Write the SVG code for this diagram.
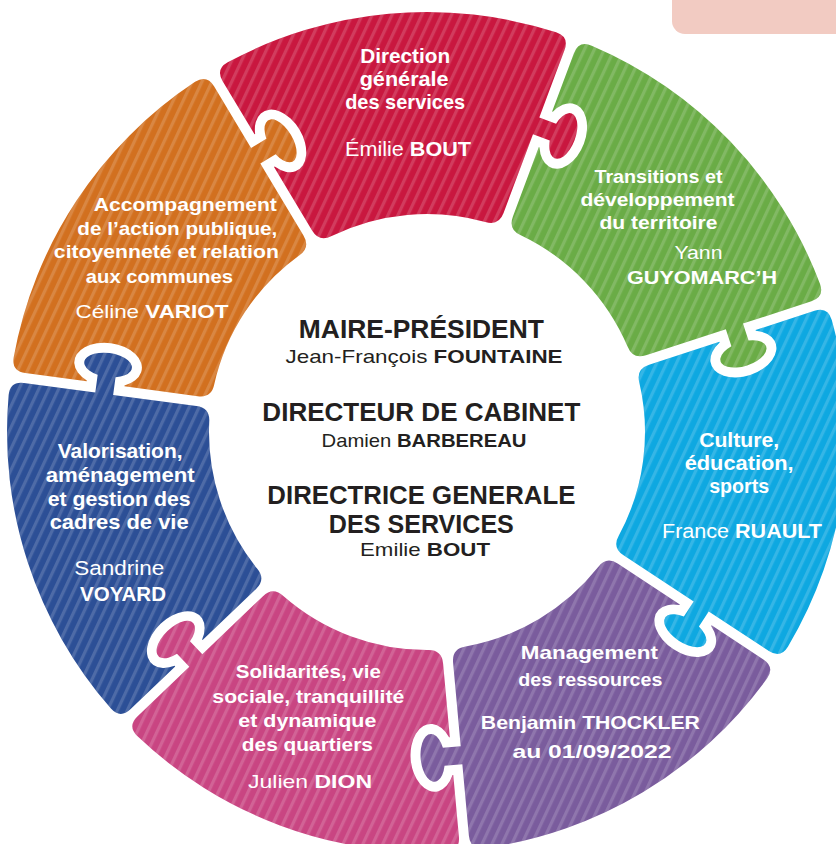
<svg xmlns="http://www.w3.org/2000/svg" width="836" height="844" viewBox="0 0 836 844">
<style>
.t{font-family:"Liberation Sans",Arial,sans-serif;fill:#fff;text-anchor:middle;font-weight:700}
.l{font-weight:400}
.b{font-weight:700}
.c{font-family:"Liberation Sans",Arial,sans-serif;fill:#231f20;text-anchor:middle;font-weight:400;font-size:19px}
.h{font-weight:700;font-size:26px}
.st{fill:url(#stripes)}
</style>
<defs>
<path id="piece" d="M -171.65 -367.97 Q -177.72 -380.58 -164.90 -386.27 A 420 420 0 0 1 164.90 -386.27 Q 177.72 -380.58 171.65 -367.97 L 140.41 -303.09 L 156.52 -295.34 A 12 24 25.714 1 1 148.71 -279.12 L 132.60 -286.88 L 96.15 -211.19 Q 90.08 -198.58 77.13 -203.90 A 218 218 0 0 0 -77.13 -203.90 Q -90.08 -198.58 -96.15 -211.19 L -128.26 -277.87 L -127.59 -278.19 A 22 34 -25.714 1 0 -144.07 -312.43 L -144.75 -312.10 Z"/>
<pattern id="stripes" patternUnits="userSpaceOnUse" width="9" height="10" patternTransform="rotate(25)">
<rect width="3.2" height="10" fill="#fff" fill-opacity="0.16"/>
</pattern>
<clipPath id="c-red"><use href="#piece" transform="translate(427 432) rotate(-5.21)"/></clipPath>
<clipPath id="c-green"><use href="#piece" transform="translate(427 432) rotate(46.21)"/></clipPath>
<clipPath id="c-cyan"><use href="#piece" transform="translate(427 432) rotate(97.64)"/></clipPath>
<clipPath id="c-purple"><use href="#piece" transform="translate(427 432) rotate(149.07)"/></clipPath>
<clipPath id="c-pink"><use href="#piece" transform="translate(427 432) rotate(200.5)"/></clipPath>
<clipPath id="c-blue"><use href="#piece" transform="translate(427 432) rotate(251.93)"/></clipPath>
<clipPath id="c-orange"><use href="#piece" transform="translate(427 432) rotate(303.36)"/></clipPath>
</defs>
<rect width="836" height="844" fill="#fff"/>
<rect x="672" y="-20" width="190" height="54" rx="13" fill="#f2cbc2"/>

<g id="dgs">
<use href="#piece" transform="translate(427 432) rotate(-5.21)" fill="#c9173f"/>
<rect class="st" width="836" height="844" clip-path="url(#c-red)"/>
<text class="t" font-size="20.5">
<tspan x="408" y="63" textLength="90" lengthAdjust="spacingAndGlyphs">Direction</tspan>
<tspan x="407" y="86" textLength="89" lengthAdjust="spacingAndGlyphs">générale</tspan>
<tspan x="408" y="109" textLength="120" lengthAdjust="spacingAndGlyphs">des services</tspan>
<tspan x="408" y="156" textLength="126" lengthAdjust="spacingAndGlyphs"><tspan class="l">Émilie </tspan>BOUT</tspan>
</text>
</g>

<g id="transitions">
<use href="#piece" transform="translate(427 432) rotate(46.21)" fill="#6aac46"/>
<rect class="st" width="836" height="844" clip-path="url(#c-green)"/>
<text class="t" font-size="18">
<tspan x="661" y="183" textLength="128" lengthAdjust="spacingAndGlyphs">Transitions et</tspan>
<tspan x="660" y="206" textLength="154" lengthAdjust="spacingAndGlyphs">développement</tspan>
<tspan x="661" y="229" textLength="118" lengthAdjust="spacingAndGlyphs">du territoire</tspan>
<tspan class="l" x="701" y="259" textLength="48" lengthAdjust="spacingAndGlyphs">Yann</tspan>
<tspan x="702" y="284" textLength="150" lengthAdjust="spacingAndGlyphs">GUYOMARC’H</tspan>
</text>
</g>

<g id="culture">
<use href="#piece" transform="translate(427 432) rotate(97.64)" fill="#0ea8e1"/>
<rect class="st" width="836" height="844" clip-path="url(#c-cyan)"/>
<text class="t" font-size="20.5">
<tspan x="742" y="447" textLength="80" lengthAdjust="spacingAndGlyphs">Culture,</tspan>
<tspan x="742" y="470" textLength="109" lengthAdjust="spacingAndGlyphs">éducation,</tspan>
<tspan x="742" y="493" textLength="60" lengthAdjust="spacingAndGlyphs">sports</tspan>
<tspan x="742" y="538" textLength="160" lengthAdjust="spacingAndGlyphs"><tspan class="l">France </tspan>RUAULT</tspan>
</text>
</g>

<g id="management">
<use href="#piece" transform="translate(427 432) rotate(149.07)" fill="#7a5c9d"/>
<rect class="st" width="836" height="844" clip-path="url(#c-purple)"/>
<text class="t" font-size="19">
<tspan x="592" y="659" textLength="137" lengthAdjust="spacingAndGlyphs">Management</tspan>
<tspan x="593" y="686" textLength="144" lengthAdjust="spacingAndGlyphs">des ressources</tspan>
<tspan x="593" y="729" textLength="219" lengthAdjust="spacingAndGlyphs">Benjamin THOCKLER</tspan>
<tspan x="592" y="758" textLength="159" lengthAdjust="spacingAndGlyphs">au 01/09/2022</tspan>
</text>
</g>

<g id="solidarites">
<use href="#piece" transform="translate(427 432) rotate(200.5)" fill="#c94582"/>
<rect class="st" width="836" height="844" clip-path="url(#c-pink)"/>
<text class="t" font-size="19">
<tspan x="311" y="678" textLength="145" lengthAdjust="spacingAndGlyphs">Solidarités, vie</tspan>
<tspan x="311" y="703" textLength="192" lengthAdjust="spacingAndGlyphs">sociale, tranquillité</tspan>
<tspan x="310" y="727" textLength="138" lengthAdjust="spacingAndGlyphs">et dynamique</tspan>
<tspan x="310" y="751" textLength="131" lengthAdjust="spacingAndGlyphs">des quartiers</tspan>
<tspan x="310" y="788" textLength="124" lengthAdjust="spacingAndGlyphs"><tspan class="l">Julien </tspan>DION</tspan>
</text>
</g>

<g id="valorisation">
<use href="#piece" transform="translate(427 432) rotate(251.93)" fill="#2c4f96"/>
<rect class="st" width="836" height="844" clip-path="url(#c-blue)"/>
<text class="t" font-size="20.5">
<tspan x="123" y="458" textLength="125" lengthAdjust="spacingAndGlyphs">Valorisation,</tspan>
<tspan x="123" y="482" textLength="149" lengthAdjust="spacingAndGlyphs">aménagement</tspan>
<tspan x="122" y="506" textLength="143" lengthAdjust="spacingAndGlyphs">et gestion des</tspan>
<tspan x="122" y="529" textLength="139" lengthAdjust="spacingAndGlyphs">cadres de vie</tspan>
<tspan class="l" x="122" y="575" textLength="90" lengthAdjust="spacingAndGlyphs">Sandrine</tspan>
<tspan x="123" y="601" textLength="86" lengthAdjust="spacingAndGlyphs">VOYARD</tspan>
</text>
</g>

<g id="accompagnement">
<use href="#piece" transform="translate(427 432) rotate(303.36)" fill="#d2701f"/>
<rect class="st" width="836" height="844" clip-path="url(#c-orange)"/>
<text class="t" font-size="19">
<tspan x="188" y="211" textLength="183" lengthAdjust="spacingAndGlyphs">Accompagnement</tspan>
<tspan x="180" y="235" textLength="200" lengthAdjust="spacingAndGlyphs">de l’action publique,</tspan>
<tspan x="169" y="258" textLength="225" lengthAdjust="spacingAndGlyphs">citoyenneté et relation</tspan>
<tspan x="162" y="283" textLength="147" lengthAdjust="spacingAndGlyphs">aux communes</tspan>
<tspan x="152" y="318" textLength="153" lengthAdjust="spacingAndGlyphs"><tspan class="l">Céline </tspan>VARIOT</tspan>
</text>
</g>

<g id="centre">
<text class="c">
<tspan class="h" x="424" y="338" textLength="245" lengthAdjust="spacingAndGlyphs">MAIRE-PRÉSIDENT</tspan>
<tspan x="424" y="363" textLength="277" lengthAdjust="spacingAndGlyphs">Jean-François <tspan class="b">FOUNTAINE</tspan></tspan>
</text>
<text class="c">
<tspan class="h" x="424" y="421" textLength="318" lengthAdjust="spacingAndGlyphs">DIRECTEUR DE CABINET</tspan>
<tspan x="424" y="447" textLength="205" lengthAdjust="spacingAndGlyphs">Damien <tspan class="b">BARBEREAU</tspan></tspan>
</text>
<text class="c">
<tspan class="h" x="424" y="504" font-size="25.5" textLength="308" lengthAdjust="spacingAndGlyphs">DIRECTRICE GENERALE</tspan>
<tspan class="h" x="424" y="533" font-size="25.5" textLength="185" lengthAdjust="spacingAndGlyphs">DES SERVICES</tspan>
<tspan x="425" y="556" textLength="130" lengthAdjust="spacingAndGlyphs">Emilie <tspan class="b">BOUT</tspan></tspan>
</text>
</g>
</svg>
